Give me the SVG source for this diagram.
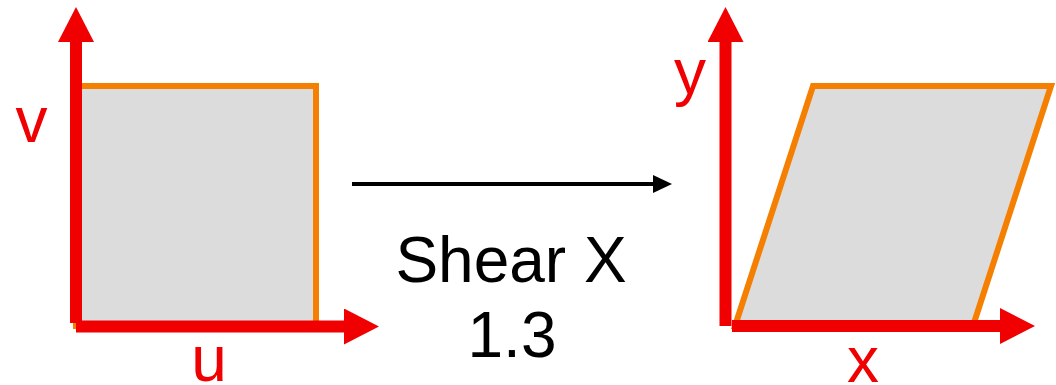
<svg xmlns="http://www.w3.org/2000/svg" width="1056" height="385" viewBox="0 0 1056 385">
  <style>
    .shape { fill: #DCDCDC; stroke: #F57F00; stroke-width: 6; stroke-linejoin: miter; }
    .axis { stroke: #F00000; stroke-width: 12; fill: none; }
    .lbl { font-family: "Liberation Sans", Arial, sans-serif; font-size: 64px; text-anchor: middle; }
    .red { fill: #F00000; }
    .blk { fill: #000000; }
  </style>
  <defs>
    <marker id="redHead" viewBox="0 0 36 36" markerWidth="36" markerHeight="36" markerUnits="userSpaceOnUse" refX="0" refY="18" orient="auto">
      <path d="M0,0 L35,18 L0,36 Z" fill="#F00000"/>
    </marker>
    <marker id="blackHead" viewBox="0 0 19 18" markerWidth="19" markerHeight="18" markerUnits="userSpaceOnUse" refX="0" refY="9" orient="auto">
      <path d="M0,0 L19,9 L0,18 Z" fill="#000000"/>
    </marker>
  </defs>
  <rect width="1056" height="385" fill="#FFFFFF"/>

  <g id="source-square">
    <rect class="shape" x="76" y="86" width="240" height="240"/>
    <line class="axis" x1="76" y1="323" x2="76" y2="42" marker-end="url(#redHead)"/>
    <line class="axis" x1="76" y1="326.5" x2="344" y2="326.5" marker-end="url(#redHead)"/>
    <text class="lbl red" x="31.5" y="142">v</text>
    <text class="lbl red" x="209" y="381">u</text>
  </g>

  <g id="sheared-parallelogram">
    <polygon class="shape" points="735,326 813,86 1051,86 973,326"/>
    <line class="axis" x1="725.5" y1="326" x2="725.5" y2="42" marker-end="url(#redHead)"/>
    <line class="axis" x1="732" y1="326" x2="1000" y2="326" marker-end="url(#redHead)"/>
    <text class="lbl red" x="690" y="94">y</text>
    <text class="lbl red" x="863" y="382">x</text>
  </g>

  <g id="connectors">
    <line x1="352" y1="184" x2="653" y2="184" stroke="#000000" stroke-width="4" marker-end="url(#blackHead)"/>
  </g>

  <g id="transform-label">
    <text class="lbl blk" x="511" y="282">Shear X</text>
    <text class="lbl blk" x="512" y="357">1.3</text>
  </g>
</svg>
